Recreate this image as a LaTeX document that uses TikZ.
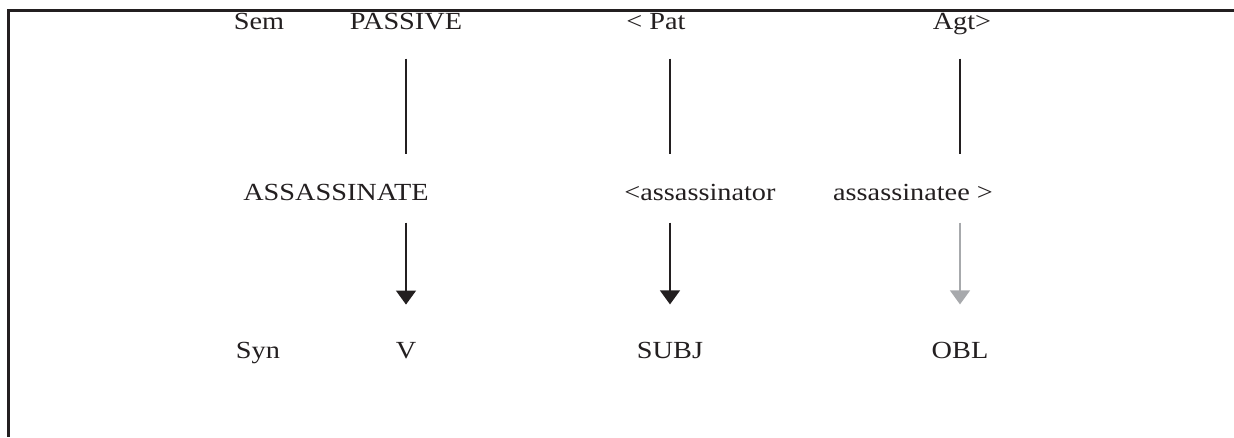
\documentclass[tikz,border=0pt]{standalone}
\usepackage{fontspec}
\setmainfont{Liberation Serif}[FakeStretch=1.15]
\usetikzlibrary{
    positioning,
    arrows.meta
}
\definecolor{inkdark}{HTML}{231F20}
\definecolor{inkgray}{HTML}{A7A9AC}
\tikzset{
    frameline/.style={
        draw=inkdark, line width=1.2pt
    },
    lab/.style={
        inner sep=0pt, anchor=base, text=inkdark,
        font=\fontsize{14}{17}\selectfont
    },
    link/.style={
        draw=inkdark, line width=0.8pt,
        shorten <=0.58cm, shorten >=0.58cm
    },
    maparrow/.style={
        draw=inkdark, line width=0.8pt,
        -{Triangle[width=0.4cm, length=0.28cm]},
        shorten <=0.44cm, shorten >=0.74cm
    },
    weakarrow/.style={
        maparrow, draw=inkgray
    }
}
\begin{document}
\begin{tikzpicture}[x=0.02cm, y=-0.02cm]
    \useasboundingbox (0,0) rectangle (1234,437);
    \draw[frameline] (1234,10.5) -- (8.5,10.5) -- (8.5,437);

    % Sem row
    \node[lab] (sem) at (259,29) {Sem};
    \node[lab] (passive) at (406,29) {PASSIVE};
    \node[lab] (pat) at (656,29) {< Pat};
    \node[lab] (agt) at (962,29) {Agt>};

    % predicate row
    \node[lab] (assassinate) at (336,200) {ASSASSINATE};
    \node[lab] (assassinator) at (700,200) {<assassinator};
    \node[lab] (assassinatee) at (913,200) {assassinatee >};

    % Syn row
    \node[lab] (syn) at (258,358) {Syn};
    \node[lab] (v) at (406,358) {V};
    \node[lab] (subj) at (670,358) {SUBJ};
    \node[lab] (obl) at (960,358) {OBL};

    \draw[link] (passive.south) -- (passive.south |- assassinate.north);
    \draw[link] (subj.north |- passive.south) -- (subj.north |- assassinate.north);
    \draw[link] (obl.north |- passive.south) -- (obl.north |- assassinate.north);

    \draw[maparrow] (v.north |- assassinate.south) -- (v.north);
    \draw[maparrow] (subj.north |- assassinate.south) -- (subj.north);
    \draw[weakarrow] (obl.north |- assassinate.south) -- (obl.north);
\end{tikzpicture}
\end{document}
